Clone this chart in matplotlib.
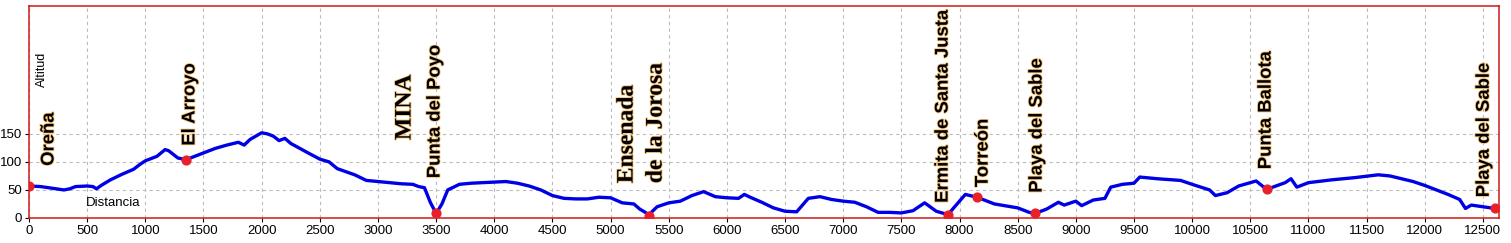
import numpy as np
import matplotlib.pyplot as plt
import matplotlib.patheffects as pe

# Elevation profile (distance in m, altitude in m)
dist = [0, 100, 200, 300, 350, 400, 500, 550, 580, 620, 700, 800, 900, 950,
        1000, 1100, 1170, 1200, 1280, 1350, 1400, 1500, 1600, 1700, 1800,
        1850, 1900, 2000, 2050, 2100, 2150, 2200, 2250, 2400, 2500, 2580,
        2650, 2800, 2900, 3000, 3100, 3200, 3300, 3350, 3400, 3450, 3500,
        3550, 3600, 3700, 3800, 3900, 4000, 4100, 4200, 4300, 4400, 4500,
        4600, 4700, 4800, 4900, 5000, 5100, 5200, 5250, 5330, 5400, 5500,
        5600, 5700, 5800, 5900, 6000, 6100, 6150, 6200, 6300, 6400, 6500,
        6600, 6700, 6800, 6900, 7000, 7100, 7200, 7300, 7400, 7500, 7600,
        7700, 7800, 7900, 8000, 8050, 8150, 8300, 8500, 8600, 8650, 8750,
        8850, 8900, 9000, 9050, 9150, 9250, 9300, 9400, 9500, 9550, 9700,
        9900, 10000, 10150, 10200, 10300, 10400, 10550, 10640, 10800, 10850,
        10900, 11000, 11200, 11400, 11600, 11700, 11900, 12000, 12200, 12300,
        12350, 12400, 12500, 12600]
alt = [57, 56, 53, 50, 52, 56, 57, 56, 52, 58, 68, 78, 87, 95,
       102, 110, 122, 120, 107, 104, 108, 116, 124, 130, 135,
       130, 140, 152, 150, 146, 138, 142, 133, 116, 105, 100,
       88, 77, 67, 65, 63, 61, 60, 56, 54, 28, 8,
       25, 50, 60, 62, 63, 64, 65, 62, 57, 50, 40,
       35, 34, 34, 37, 36, 27, 25, 16, 6, 20, 27,
       30, 40, 47, 38, 36, 35, 42, 37, 28, 18, 12,
       11, 35, 38, 33, 30, 28, 20, 10, 10, 9, 13,
       27, 12, 6, 30, 42, 37, 25, 18, 10, 8, 16,
       28, 23, 30, 22, 32, 35, 55, 60, 62, 73, 70,
       67, 60, 50, 40, 45, 57, 66, 51, 63, 70,
       55, 63, 68, 72, 77, 75, 65, 58, 42, 33,
       17, 23, 20, 17]

# Waypoints
wp_x = [0, 1350, 3500, 5330, 7900, 8150, 8650, 10640, 12600]
wp_y = [57, 104, 8, 4, 5, 37, 8, 51, 17]

# Labels: text, x, y, serif?
labels = ["Oreña", "El Arroyo", "MINA", "Punta del Poyo", "Ensenada",
          "de la Jorosa", "Ermita de Santa Justa", "Torreón",
          "Playa del Sable", "Punta Ballota", "Playa del Sable"]
lab_x = [172, 1384, 3233, 3491, 5142, 5391, 7859, 8203, 8667, 10636, 12511]
lab_y = [93, 129, 139, 71, 62, 62, 27, 55, 45, 87, 37]
lab_serif = [False, False, True, False, True, True, False, False, False,
             False, False]

fig = plt.figure(figsize=(15.11, 2.43), dpi=100)
ax = fig.add_axes([0.0192, 0.103, 0.973, 0.872])

ax.plot(dist, alt, color="#0000e6", lw=2.4, zorder=3)
ax.scatter(wp_x, wp_y, s=40, color="#e8202a", zorder=4)

halo = [pe.withStroke(linewidth=1.2, foreground="#f2c27a")]
for t, x, y, s in zip(labels, lab_x, lab_y, lab_serif):
    if s:
        ax.text(x, y, t, rotation=90, ha="center", va="bottom",
                family="Liberation Serif", fontweight="bold", fontsize=17,
                path_effects=halo, zorder=5)
    else:
        ax.text(x, y, t, rotation=90, ha="center", va="bottom",
                family="Liberation Sans", fontweight="bold", fontsize=13.3,
                path_effects=halo, zorder=5)

ax.set_xlim(0, 12640)
ax.set_ylim(0, 378)
ax.set_xticks(np.arange(0, 12501, 500))
ax.set_yticks([0, 50, 100, 150])
ax.tick_params(labelsize=9.5, length=3, pad=2)
for lbl in ax.get_xticklabels() + ax.get_yticklabels():
    lbl.set_family("Liberation Sans")

ax.grid(True, color="#bbbbbb", ls=(0, (3, 3)), lw=0.8)
ax.set_axisbelow(True)
for sp in ax.spines.values():
    sp.set_color("#cc1a1a")
    sp.set_linewidth(1.1)

ax.text(0.009, 0.70, "Altitud", transform=ax.transAxes, rotation=90,
        ha="center", va="center", fontsize=9, family="Liberation Sans")
ax.text(0.039, 0.07, "Distancia", transform=ax.transAxes, ha="left",
        va="center", fontsize=9.5, family="Liberation Sans")

fig.savefig("out.png", dpi=100)
